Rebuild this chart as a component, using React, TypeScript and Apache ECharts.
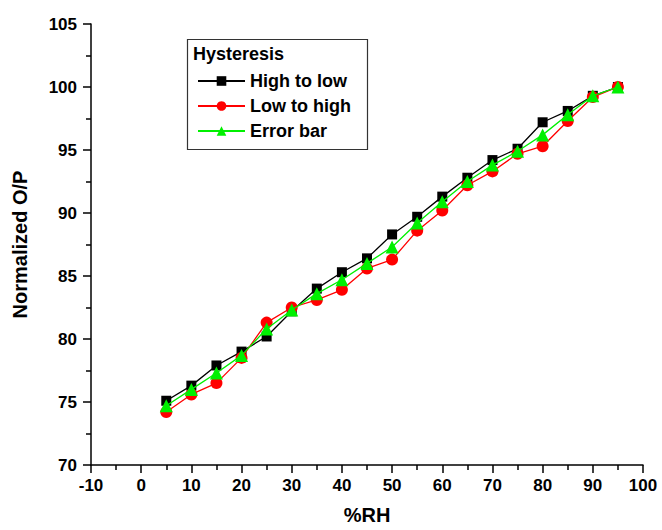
import React, { useEffect, useRef } from "react";
import * as echarts from "echarts";

const rhValues = [5, 10, 15, 20, 25, 30, 35, 40, 45, 50, 55, 60, 65, 70, 75, 80, 85, 90, 95];
const highToLow = [75.1, 76.3, 77.9, 79.0, 80.2, 82.2, 84.0, 85.3, 86.4, 88.3, 89.7, 91.3, 92.8, 94.2, 95.1, 97.2, 98.1, 99.3, 100];
const lowToHigh = [74.2, 75.6, 76.5, 78.5, 81.3, 82.5, 83.1, 83.9, 85.6, 86.3, 88.6, 90.2, 92.2, 93.3, 94.7, 95.3, 97.3, 99.2, 100];
const errorBar = [74.7, 76.0, 77.3, 78.7, 80.8, 82.3, 83.6, 84.7, 86.0, 87.3, 89.2, 90.9, 92.5, 93.8, 94.9, 96.2, 97.8, 99.3, 100];

const seriesNames = ["High to low", "Low to high", "Error bar"];
const legendTitle = "Hysteresis";
const xTitle = "%RH";
const yTitle = "Normalized O/P";

const FONT = "'Liberation Sans', Arial, sans-serif";

export default function App() {
  const ref = useRef<HTMLDivElement>(null);
  useEffect(() => {
    if (!ref.current) return;
    const chart = echarts.init(ref.current, undefined, { renderer: "svg" });
    const pair = (ys: number[]) => rhValues.map((x, i) => [x, ys[i]]);
    const axisCommon = {
      axisLine: { show: true, onZero: false, lineStyle: { color: "#000", width: 1.5 } },
      axisTick: { show: true, inside: false, length: 8, lineStyle: { color: "#000", width: 1.5 } },
      minorTick: { show: true, splitNumber: 2, length: 5, lineStyle: { color: "#000", width: 1.5 } },
      splitLine: { show: false },
      nameLocation: "middle" as const,
      nameTextStyle: { fontFamily: FONT, fontWeight: "bold", fontSize: 20, color: "#000" },
    };
    chart.setOption({
      animation: false,
      backgroundColor: "#fff",
      grid: { left: 91, right: 19, top: 24, bottom: 63, containLabel: false },
      xAxis: {
        type: "value",
        min: -10,
        max: 100,
        interval: 10,
        name: xTitle,
        nameGap: 40,
        ...axisCommon,
        axisLabel: { fontFamily: FONT, fontWeight: "bold", fontSize: 17, color: "#000", margin: 12 },
      },
      yAxis: {
        type: "value",
        min: 70,
        max: 105,
        interval: 5,
        name: yTitle,
        nameGap: 61,
        ...axisCommon,
        axisLabel: { fontFamily: FONT, fontWeight: "bold", fontSize: 17, color: "#000", margin: 14 },
      },
      legend: {
        orient: "vertical",
        left: 192,
        top: 67,
        itemWidth: 47,
        itemHeight: 12,
        itemGap: 7,
        data: seriesNames,
        textStyle: { fontFamily: FONT, fontWeight: "bold", fontSize: 18, color: "#000" },
      },
      graphic: [
        {
          type: "rect",
          left: 185,
          top: 37,
          shape: { width: 180, height: 110 },
          style: { fill: "none", stroke: "#333", lineWidth: 1.2 },
          z: 10,
        },
        {
          type: "text",
          left: 193,
          top: 45,
          style: { text: legendTitle, fontFamily: FONT, fontWeight: "bold", fontSize: 18, fill: "#000" },
          z: 10,
        },
      ],
      series: [
        {
          name: seriesNames[0],
          type: "line",
          data: pair(highToLow),
          symbol: "rect",
          symbolSize: 10,
          itemStyle: { color: "#000" },
          lineStyle: { color: "#000", width: 1.3 },
          z: 2,
        },
        {
          name: seriesNames[1],
          type: "line",
          data: pair(lowToHigh),
          symbol: "circle",
          symbolSize: 12,
          itemStyle: { color: "#ff0000" },
          lineStyle: { color: "#ff0000", width: 1.3 },
          z: 3,
        },
        {
          name: seriesNames[2],
          type: "line",
          data: pair(errorBar),
          symbol: "triangle",
          symbolSize: 13,
          itemStyle: { color: "#00f000" },
          lineStyle: { color: "#00f000", width: 1.3 },
          z: 4,
        },
      ],
    });
    return () => chart.dispose();
  }, []);
  return <div ref={ref} style={{ width: 662, height: 530, position: "absolute", left: 0, top: 0 }} />;
}
